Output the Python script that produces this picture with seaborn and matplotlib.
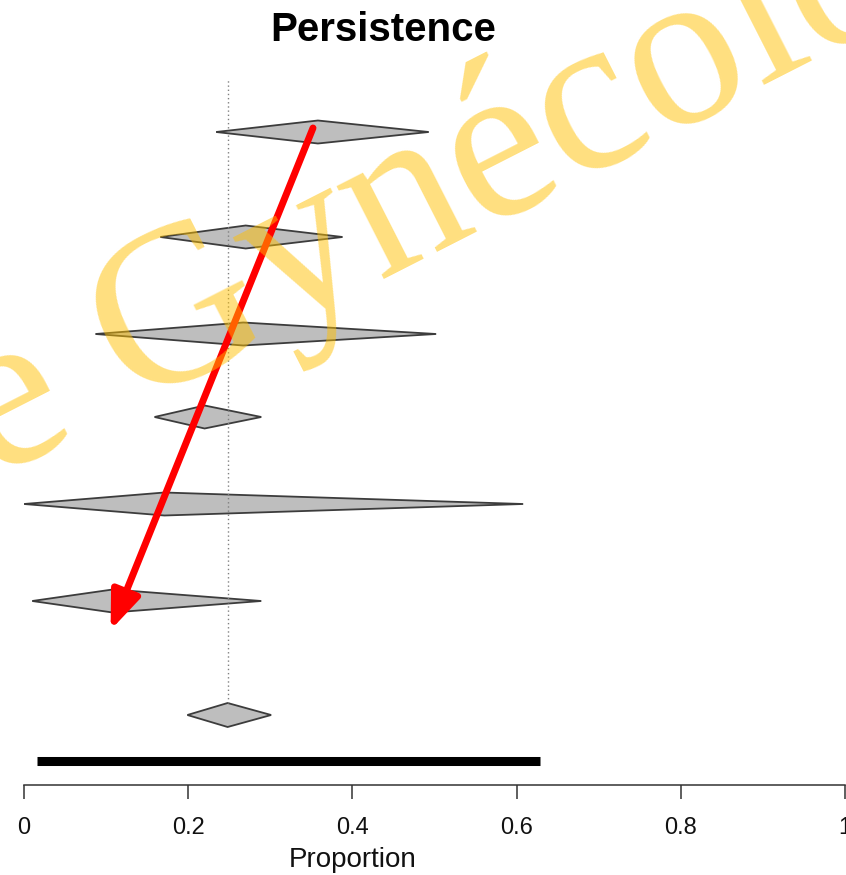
import matplotlib
matplotlib.use("Agg")
import matplotlib.pyplot as plt
import numpy as np
import pandas as pd
import seaborn as sns

# Study estimates (proportion) and confidence limits, top to bottom
study_est = [0.358, 0.270, 0.267, 0.220, 0.171, 0.108]
study_lo = [0.234, 0.166, 0.087, 0.159, 0.000, 0.010]
study_hi = [0.493, 0.388, 0.502, 0.289, 0.608, 0.289]
study_row = [6.53, 5.48, 4.51, 3.68, 2.81, 1.84]

# Pooled estimate and prediction interval
pooled_est = 0.248
pooled_lo = 0.199
pooled_hi = 0.301
pooled_row = 0.70
pi_lo = 0.016
pi_hi = 0.628
pi_row = 0.24

x_ticks = [0, 0.2, 0.4, 0.6, 0.8, 1]
x_tick_labels = ["0", "0.2", "0.4", "0.6", "0.8", "1"]

W, H = 846, 875


def px(x, y):
    # figure pixel (from top-left) -> figure fraction
    return x / W, 1 - y / H


def diamond(ax, lo, est, hi, row, half=0.115, **kw):
    xs = [lo, est, hi, est, lo]
    ys = [row, row + half, row, row - half, row]
    ax.fill(xs, ys, **kw)


sns.set_style("white")
plt.rcParams["font.family"] = ["Liberation Sans", "DejaVu Sans"]

fig = plt.figure(figsize=(W / 100, H / 100), dpi=100)
ax = fig.add_axes([24 / W, 1 - 785 / H, 821 / W, 725 / H])

# reference line at pooled estimate
ref = pd.DataFrame({"x": [pooled_est, pooled_est], "y": [pooled_row + 0.12, 7.05]})
sns.lineplot(data=ref, x="x", y="y", ax=ax, color="#808080", lw=1.0,
             linestyle=(0, (1, 2)), estimator=None, sort=False)

for lo, est, hi, row in zip(study_lo, study_est, study_hi, study_row):
    diamond(ax, lo, est, hi, row, facecolor="#BEBEBE", edgecolor="#3c3c3c", lw=1.3)
diamond(ax, pooled_lo, pooled_est, pooled_hi, pooled_row, half=0.12,
        facecolor="#BEBEBE", edgecolor="#3c3c3c", lw=1.3)

# prediction interval bar
pi = pd.DataFrame({"x": [pi_lo, pi_hi], "y": [pi_row, pi_row]})
sns.lineplot(data=pi, x="x", y="y", ax=ax, color="black", lw=6.5,
             solid_capstyle="butt", estimator=None, sort=False)

ax.set_xlim(0, 1)
ax.set_ylim(0, 7.25)
ax.set_yticks([])
ax.set_xticks(x_ticks)
ax.set_xticklabels(x_tick_labels, fontsize=17, color="#111111")
ax.tick_params(axis="x", direction="out", length=10, width=1.1, color="#333333",
               pad=13, bottom=True)
for s in ["top", "right", "left"]:
    ax.spines[s].set_visible(False)
ax.spines["bottom"].set_color("#333333")
ax.spines["bottom"].set_linewidth(1.1)
ax.set_xlabel("Proportion", fontsize=20, color="#111111")
ax.xaxis.set_label_coords(0.4, -0.085)
ax.set_ylabel("")

# red arrow
ax.annotate("", xy=(0.1055, 1.55), xytext=(0.352, 6.57),
            arrowprops=dict(arrowstyle="-|>,head_length=1.15,head_width=0.45",
                            color="#FF0000", lw=5.0, mutation_scale=20,
                            capstyle="round", shrinkA=0, shrinkB=0))

fig.text(*px(383, 30), "Persistence", fontsize=29, fontweight="bold",
         color="black", ha="center", va="center")

# watermark, laid out letter by letter
ang = 27
fs = 163
track = 0
wm_kw = dict(fontsize=fs, family="Liberation Serif", color="#FFC000", alpha=0.5,
             rotation=ang, rotation_mode="anchor", va="baseline", zorder=10)
renderer = fig.canvas.get_renderer()


def advance(s):
    t = fig.text(0, 0, s, fontsize=fs, family="Liberation Serif")
    w = t.get_window_extent(renderer).width
    t.remove()
    return w


cs, sn = np.cos(np.radians(ang)), np.sin(np.radians(ang))
gx, gy = 132, 405
x, y = gx, gy
for ch in "Gynécologie":
    fig.text(*px(x, y), ch, ha="left", **wm_kw)
    step = advance(ch) + track
    x, y = x + step * cs, y - step * sn
gap = advance("d e") - advance("de")
fig.text(*px(gx - gap * cs, gy + gap * sn), "de", ha="right", **wm_kw)

fig.savefig("out.png", dpi=100)
